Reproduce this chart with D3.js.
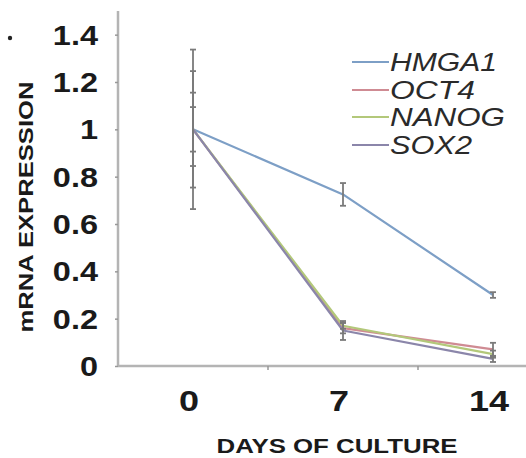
<!DOCTYPE html>
<html>
<head>
<meta charset="utf-8">
<script src="https://cdn.jsdelivr.net/npm/d3@7"></script>
<style>
  html, body { margin: 0; padding: 0; background: #fff; }
  svg { display: block; }
  text { font-family: "Liberation Sans", Arial, sans-serif; }
</style>
</head>
<body>
<script>
// Days of culture and mRNA expression per gene (relative to day 0)
const days = [0, 7, 14];
const genes = ["HMGA1", "OCT4", "NANOG", "SOX2"];
const geneColors = ["#7d9fc6", "#cf8b93", "#b3c87a", "#8b86aa"];
const hmga1 = [1.0, 0.725, 0.30];
const oct4 = [1.0, 0.16, 0.07];
const nanog = [1.0, 0.17, 0.05];
const sox2 = [1.0, 0.15, 0.03];
// standard deviations
const hmga1Err = [0.155, 0.048, 0.012];
const oct4Err = [0.337, 0.022, 0.028];
const nanogErr = [0.246, 0.013, 0.015];
const sox2Err = [0.094, 0.04, 0.013];
const yTicks = [0, 0.2, 0.4, 0.6, 0.8, 1, 1.2, 1.4];
const yTickLabels = ["0", "0.2", "0.4", "0.6", "0.8", "1", "1.2", "1.4"];

const series = [
  { name: genes[0], values: hmga1, err: hmga1Err, color: geneColors[0] },
  { name: genes[1], values: oct4, err: oct4Err, color: geneColors[1] },
  { name: genes[2], values: nanog, err: nanogErr, color: geneColors[2] },
  { name: genes[3], values: sox2, err: sox2Err, color: geneColors[3] }
];

const W = 526, H = 458;
const svg = d3.select("body").append("svg").attr("width", W).attr("height", H);

const x = d3.scaleBand().domain(days).range([118, 568]);
const y = d3.scaleLinear().domain([0, 1.5]).range([366, 11]);
const cx = d => x(d) + x.bandwidth() / 2;

const axisColor = "#b4b4b4";

// y axis
const yAxis = svg.append("g").attr("transform", `translate(${x.range()[0]},0)`)
  .call(d3.axisLeft(y).tickValues(yTicks).tickSize(3).tickFormat(""));
yAxis.select(".domain").attr("stroke", axisColor).attr("stroke-width", 2.5).attr("d", `M0,${y(0)}V${y.range()[1]}`);
yAxis.selectAll(".tick line").attr("stroke", "#999").attr("stroke-width", 1.5);

// x axis, ticks at category boundaries
const xAxis = svg.append("g").attr("transform", `translate(0,${y(0)})`);
xAxis.append("line").attr("x1", x.range()[0]).attr("x2", x.range()[1])
  .attr("stroke", axisColor).attr("stroke-width", 2.5);
xAxis.selectAll("line.tk").data(days.slice(1)).join("line").attr("class", "tk")
  .attr("x1", d => x(d)).attr("x2", d => x(d)).attr("y1", 0).attr("y2", 4)
  .attr("stroke", "#999").attr("stroke-width", 1.5);

// y tick labels
svg.append("g").selectAll("text").data(yTicks).join("text")
  .attr("transform", d => `translate(98,${y(d) + 10}) scale(1.16,1)`)
  .attr("text-anchor", "end").attr("font-weight", "bold").attr("font-size", 28)
  .attr("fill", "#1a1a1a")
  .text((d, i) => yTickLabels[i]);

// x tick labels
svg.append("g").selectAll("text").data(days).join("text")
  .attr("transform", d => `translate(${cx(d) - 4},${y(0) + 45}) scale(1.2,1)`)
  .attr("text-anchor", "middle").attr("font-weight", "bold").attr("font-size", 30)
  .attr("fill", "#1a1a1a")
  .text(d => d);

// axis titles
svg.append("text").attr("x", 337).attr("y", 453)
  .attr("text-anchor", "middle").attr("font-weight", "bold").attr("font-size", 21)
  .attr("textLength", 241).attr("lengthAdjust", "spacingAndGlyphs")
  .attr("fill", "#1a1a1a").text("DAYS OF CULTURE");

svg.append("text").attr("transform", "translate(33,207) rotate(-90)")
  .attr("text-anchor", "middle").attr("font-weight", "bold").attr("font-size", 21)
  .attr("textLength", 251).attr("lengthAdjust", "spacingAndGlyphs")
  .attr("fill", "#1a1a1a").text("mRNA EXPRESSION");

// stray mark beside the top tick label
svg.append("circle").attr("cx", 10).attr("cy", 38).attr("r", 2.2).attr("fill", "#222");

// series lines
const line = d3.line().x((d, i) => cx(days[i])).y(d => y(d));
svg.append("g").selectAll("path").data(series).join("path")
  .attr("d", s => line(s.values))
  .attr("fill", "none").attr("stroke", s => s.color).attr("stroke-width", 2.2)
  .attr("stroke-linejoin", "round");

// error bars
const eb = svg.append("g").attr("stroke", "#7a7a7a").attr("stroke-width", 1.8);
series.forEach(s => {
  s.values.forEach((v, i) => {
    const px = cx(days[i]);
    const lo = y(v - s.err[i]), hi = y(v + s.err[i]);
    eb.append("line").attr("x1", px).attr("x2", px).attr("y1", lo).attr("y2", hi);
    eb.append("line").attr("x1", px - 3).attr("x2", px + 3).attr("y1", lo).attr("y2", lo);
    eb.append("line").attr("x1", px - 3).attr("x2", px + 3).attr("y1", hi).attr("y2", hi);
  });
});

// legend
const legendRows = [62, 90, 117, 145];
const legendWidths = [107, 85, 115, 82];
const lg = svg.append("g");
series.forEach((s, i) => {
  lg.append("line").attr("x1", 352).attr("x2", 389)
    .attr("y1", legendRows[i]).attr("y2", legendRows[i])
    .attr("stroke", s.color).attr("stroke-width", 2.2);
  lg.append("text").attr("x", 390).attr("y", legendRows[i] + 9)
    .attr("font-style", "italic").attr("font-size", 25).attr("fill", "#2a2a2a")
    .attr("textLength", legendWidths[i]).attr("lengthAdjust", "spacingAndGlyphs")
    .text(s.name);
});
</script>
</body>
</html>
